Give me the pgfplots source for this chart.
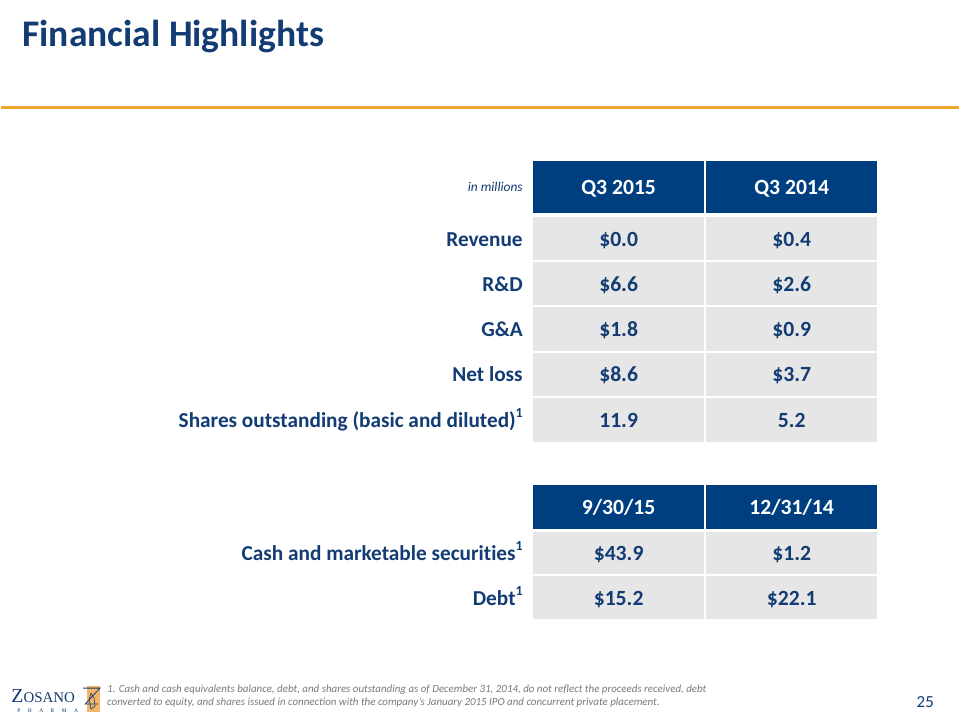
\documentclass[border=0pt]{standalone}
\usepackage{pgfplots}
\pgfplotsset{compat=1.18}
\usepackage{fontspec}
\setmainfont{Carlito}
\newfontfamily\seriflogo{Liberation Serif}
\definecolor{navy}{HTML}{003F7F}
\definecolor{navytext}{HTML}{123C73}
\definecolor{cellgray}{HTML}{E6E6E6}
\definecolor{rule}{HTML}{F0A52E}
\definecolor{foot}{HTML}{7A7A7A}
\definecolor{logoorange}{HTML}{F3B56A}
\newcommand\cell[5]{\addplot[draw=none,fill=#5,forget plot] coordinates {(#1,#2) (#3,#2) (#3,#4) (#1,#4)} -- cycle;}
\newcommand\lab{\fontsize{21.4}{24}\selectfont\bfseries}
\newcommand\val{\fontsize{21.8}{24}\selectfont\bfseries}
\newcommand\supone[1]{\raisebox{0.45em}{\fontsize{14}{15}\selectfont #1}}
\begin{document}
\begin{tikzpicture}
\begin{axis}[width=960bp,height=720bp,scale only axis,
  xmin=0,xmax=960,ymin=0,ymax=720,y dir=reverse,
  axis lines=none,clip=false]
% background
\cell{0}{0}{960}{720}{white}
% orange rule
\addplot[rule,line width=2.6bp,forget plot] coordinates {(0,108) (960,108)};
% table 1 header
\cell{533}{161}{705}{214}{navy}
\cell{707}{161}{878}{214}{navy}
% table 1 rows
\cell{533}{218}{705}{261}{cellgray}\cell{707}{218}{878}{261}{cellgray}
\cell{533}{263}{705}{306}{cellgray}\cell{707}{263}{878}{306}{cellgray}
\cell{533}{308}{705}{352}{cellgray}\cell{707}{308}{878}{352}{cellgray}
\cell{533}{354}{705}{397}{cellgray}\cell{707}{354}{878}{397}{cellgray}
\cell{533}{399}{705}{443}{cellgray}\cell{707}{399}{878}{443}{cellgray}
% table 2
\cell{533}{486}{705}{530}{navy}\cell{707}{486}{878}{530}{navy}
\cell{533}{533}{705}{576}{cellgray}\cell{707}{533}{878}{576}{cellgray}
\cell{533}{578}{705}{621}{cellgray}\cell{707}{578}{878}{621}{cellgray}
% title
\node[anchor=base west,inner sep=0,text=navytext,font=\fontsize{37.8}{40}\selectfont\bfseries] at (axis cs:21,47) {Financial Highlights};
% header texts
\node[anchor=base east,inner sep=0,text=navytext,font=\fontsize{13.5}{15}\selectfont\itshape] at (axis cs:523,192) {in millions};
\node[anchor=base,inner sep=0,text=white,font=\val] at (axis cs:619,195) {Q3 2015};
\node[anchor=base,inner sep=0,text=white,font=\val] at (axis cs:792.5,195) {Q3 2014};
% row labels & values
\node[anchor=base east,inner sep=0,text=navytext,font=\lab] at (axis cs:523,247) {Revenue};
\node[anchor=base,inner sep=0,text=navytext,font=\val] at (axis cs:619,247) {\$0.0};
\node[anchor=base,inner sep=0,text=navytext,font=\val] at (axis cs:792.5,247) {\$0.4};
\node[anchor=base east,inner sep=0,text=navytext,font=\lab] at (axis cs:523,292) {R\&D};
\node[anchor=base,inner sep=0,text=navytext,font=\val] at (axis cs:619,292) {\$6.6};
\node[anchor=base,inner sep=0,text=navytext,font=\val] at (axis cs:792.5,292) {\$2.6};
\node[anchor=base east,inner sep=0,text=navytext,font=\lab] at (axis cs:523,337.5) {G\&A};
\node[anchor=base,inner sep=0,text=navytext,font=\val] at (axis cs:619,337.5) {\$1.8};
\node[anchor=base,inner sep=0,text=navytext,font=\val] at (axis cs:792.5,337.5) {\$0.9};
\node[anchor=base east,inner sep=0,text=navytext,font=\lab] at (axis cs:523,383) {Net loss};
\node[anchor=base,inner sep=0,text=navytext,font=\val] at (axis cs:619,383) {\$8.6};
\node[anchor=base,inner sep=0,text=navytext,font=\val] at (axis cs:792.5,383) {\$3.7};
\node[anchor=base east,inner sep=0,text=navytext,font=\lab] at (axis cs:523,428.5) {Shares outstanding (basic and diluted)\supone{1}};
\node[anchor=base,inner sep=0,text=navytext,font=\val] at (axis cs:619,428.5) {11.9};
\node[anchor=base,inner sep=0,text=navytext,font=\val] at (axis cs:792.5,428.5) {5.2};
% table 2 texts
\node[anchor=base,inner sep=0,text=white,font=\val] at (axis cs:619,515.5) {9/30/15};
\node[anchor=base,inner sep=0,text=white,font=\val] at (axis cs:792.5,515.5) {12/31/14};
\node[anchor=base east,inner sep=0,text=navytext,font=\lab] at (axis cs:523,562) {Cash and marketable securit\kern0pt ies\supone{1}};
\node[anchor=base,inner sep=0,text=navytext,font=\val] at (axis cs:619,562) {\$43.9};
\node[anchor=base,inner sep=0,text=navytext,font=\val] at (axis cs:792.5,562) {\$1.2};
\node[anchor=base east,inner sep=0,text=navytext,font=\lab] at (axis cs:523,607) {Debt\supone{1}};
\node[anchor=base,inner sep=0,text=navytext,font=\val] at (axis cs:619,607) {\$15.2};
\node[anchor=base,inner sep=0,text=navytext,font=\val] at (axis cs:792.5,607) {\$22.1};
% footnote
\node[anchor=base west,inner sep=0,text=foot,font=\fontsize{11}{12}\selectfont\itshape] at (axis cs:106,694.5) {1. Cash and cash equivalents balance, debt, and shares outstanding as of December 31, 2014, do not reflect the proceeds received, debt};
\node[anchor=base west,inner sep=0,text=foot,font=\fontsize{11}{12}\selectfont\itshape] at (axis cs:106,707.5) {converted to equity, and shares issued in connection with the company's January 2015 IPO and concurrent private placement.};
% page number
\node[anchor=base,inner sep=0,text=navytext,font=\fontsize{17}{18}\selectfont] at (axis cs:926.5,709) {25};
% logo
\cell{86}{688}{99}{714}{logoorange}
\addplot[navytext,line width=0.8bp,forget plot] coordinates {(82,690) (99,690) (84,706) (97,706)};
\addplot[navytext,line width=0.6bp,forget plot] coordinates {(90,695) (88,702) (90,711) (94,708) (93,700) (90,695)};
\node[anchor=base west,inner sep=0,text=navytext,font=\seriflogo\fontsize{20}{21}\selectfont] at (axis cs:10,704) {Z\fontsize{15}{16}\selectfont OSANO};
\node[anchor=base west,inner sep=0,text=navytext,font=\seriflogo\fontsize{5.5}{6}\selectfont] at (axis cs:16,714) {P\hspace{7.5pt}H\hspace{7.5pt}A\hspace{7.5pt}R\hspace{7.5pt}M\hspace{7.5pt}A};
\end{axis}
\end{tikzpicture}
\end{document}
